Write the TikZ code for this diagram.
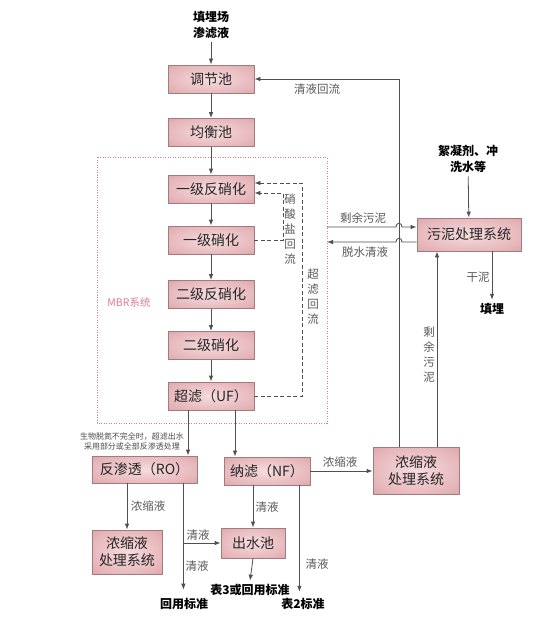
\documentclass[tikz,border=0pt]{standalone}
\usepackage{fontspec}
\setmainfont{Noto Sans CJK SC}
\usetikzlibrary{arrows.meta}
\definecolor{boxin}{HTML}{F6DCDE}
\definecolor{boxout}{HTML}{D48C93}
\definecolor{boxline}{HTML}{A07C7F}
\definecolor{flow}{HTML}{505050}
\definecolor{mbrpink}{HTML}{E07A92}
\pgfdeclareradialshading{boxshade}{\pgfpoint{0bp}{0bp}}{color(0bp)=(boxin); color(28bp)=(boxin!50!boxout); color(50bp)=(boxout)}
\begin{document}
\begin{tikzpicture}[x=1pt,y=-1pt,
	box/.style={draw=boxline,line width=0.8pt,shading=boxshade,minimum width=86pt,minimum height=28pt,inner sep=1pt,font=\fontsize{14}{17}\selectfont,text=black!85},
	line/.style={draw=flow,line width=0.8pt},
	arr/.style={line,-{Latex[length=6pt,width=4.5pt]}},
	back/.style={arr,dash pattern=on 4pt off 2.5pt},
	lab/.style={font=\fontsize{11.5}{13}\selectfont,text=black!65},
	vlab/.style={lab,align=center,font=\fontsize{11.5}{15}\selectfont},
	bold/.style={font=\bfseries\fontsize{12}{16}\selectfont,align=center}]
		\useasboundingbox (0,0) rectangle (554,633);
		\fill[white] (0,0) rectangle (554,633);

		% MBR frame
		\draw[mbrpink,line width=0.6pt,dash pattern=on 1pt off 1.5pt] (97,157) rectangle (327,423);
		\node[text=mbrpink,font=\fontsize{10.5}{12}\selectfont] (mbr) at (129,302) {MBR系统};
		\coordinate (sludgeout) at (327,227);
		\coordinate (liqback) at (327,242);

		% main column
		\node[bold] (source) at (211,25) {填埋场\\渗滤液};
		\node[box] (tiaojie) at (211,79) {调节池};
		\node[box] (junheng) at (211,132.5) {均衡池};
		\node[box] (fanxiao1) at (211,189) {一级反硝化};
		\node[box] (xiao1) at (211,240) {一级硝化};
		\node[box] (fanxiao2) at (211,294.5) {二级反硝化};
		\node[box] (xiao2) at (211,345.5) {二级硝化};
		\node[box] (uf) at (211,396) {超滤（UF）};

		\draw[arr] (source) -- (tiaojie);
		\draw[arr] (tiaojie) -- (junheng);
		\draw[arr] (junheng) -- (fanxiao1);
		\draw[arr] (fanxiao1) -- (xiao1);
		\draw[arr] (xiao1) -- (fanxiao2);
		\draw[arr] (fanxiao2) -- (xiao2);
		\draw[arr] (xiao2) -- (uf);

		% return flows
		\draw[back] (xiao1.east) -- ++(29,0) |- ([yshift=-4pt]fanxiao1.east);
		\draw[back] (uf.east) -- ++(48,0) |- ([yshift=6pt]fanxiao1.east);
		\node[vlab] (nitrate) at (290,229) {硝\\酸\\盐\\回\\流};
		\node[vlab] (ufback) at (313,297) {超\\滤\\回\\流};

		% sludge side
		\node[box,minimum width=104pt,minimum height=33pt] (wuni) at (469,234.5) {污泥处理系统};
		\node[bold] (flocc) at (468,159) {絮凝剂、冲\\洗水等};
		\node[bold] (landfill) at (492,309) {填埋};
		\draw[arr] (flocc) -- (wuni);
		\draw[arr] ([xshift=23pt]wuni.south) -- (landfill.north);
		\node[lab] (dry) at (478,277) {干泥};

		\draw[arr] (sludgeout) -- (396,227) .. controls (396,222) and (402,222) .. (402,227) -- (sludgeout -| wuni.west);
		\draw[arr] (liqback -| wuni.west) -- (402,242) .. controls (402,237) and (396,237) .. (396,242) -- (liqback);
		\node[lab] (surplus) at (363,218) {剩余污泥};
		\node[lab] (dewater) at (365,252) {脱水清液};

		% lower part
		\node[box,minimum width=105pt,minimum height=27pt] (ro) at (144.5,469.5) {反渗透（RO）};
		\node[box] (nf) at (267,471) {纳滤（NF）};
		\node[box,minimum height=47pt,align=center] (nongR) at (416,470.5) {浓缩液\\处理系统};
		\node[box,minimum width=70pt,minimum height=44pt,align=center] (nongL) at (127,552) {浓缩液\\处理系统};
		\node[box,minimum width=64pt,minimum height=30pt] (chushui) at (253,543) {出水池};
		\node[bold] (reuse) at (184,604) {回用标准};
		\node[bold] (tab3) at (250,590) {表3或回用标准};
		\node[bold] (tab2) at (303,604) {表2标准};

		\draw[arr] ([xshift=-17pt]nongR.north) -- ([xshift=-17pt]nongR.north |- tiaojie.east) -- (tiaojie.east);
		\node[lab] (clearback) at (317,89) {清液回流};
		\draw[arr] ([xshift=21pt]nongR.north) -- ([xshift=21pt]nongR.north |- wuni.south);
		\node[vlab] (surplusv) at (429,355) {剩\\余\\污\\泥};

		\draw[arr] ([xshift=-23pt]uf.south) -- ([xshift=-23pt]uf.south |- ro.north);
		\draw[arr] ([xshift=24pt]uf.south) -- ([xshift=24pt]uf.south |- nf.north);
		\node[font=\fontsize{8}{10}\selectfont,text=black!70,align=center] (note) at (132,441) {生物脱氮不完全时，超滤出水\\采用部分或全部反渗透处理};

		\draw[arr] (nf.east) -- (nf.east -| nongR.west);
		\node[lab] (conc1) at (340,462) {浓缩液};
		\draw[arr] (ro.south -| nongL) -- (nongL.north);
		\node[lab] (conc2) at (148,506) {浓缩液};

		\draw[arr] ([xshift=-14pt]ro.south east) -- ([xshift=-14pt,yshift=5pt]ro.south east |- reuse.north);
		\draw[arr] ([xshift=-14pt]ro.south east |- chushui.west) -- (chushui.west);
		\node[lab] (clear1) at (198,535) {清液};
		\node[lab] (clear2) at (197,566) {清液};

		\draw[arr] (nf.south -| chushui) -- (chushui.north);
		\node[lab] (clear3) at (267,507) {清液};
		\draw[arr] (chushui.south) -- (tab3.north);
		\draw[arr] ([xshift=-11pt]nf.south east) -- ([xshift=-11pt,yshift=3pt]nf.south east |- tab2.north);
		\node[lab] (clear4) at (317,564) {清液};
\end{tikzpicture}
\end{document}
